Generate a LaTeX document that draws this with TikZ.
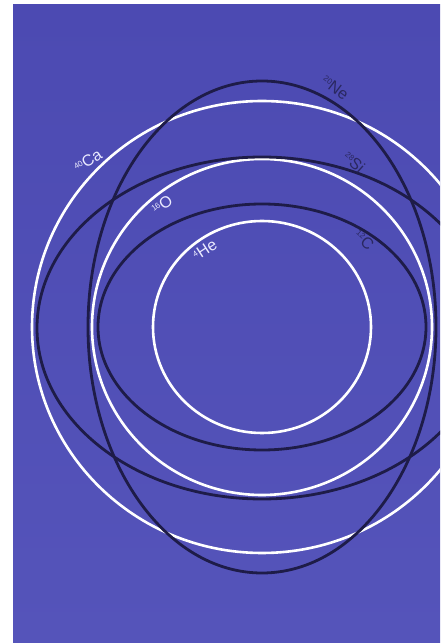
\documentclass[tikz,border=0pt]{standalone}
\usepackage{fontspec}
\setmainfont{Liberation Sans}
\definecolor{bgtop}{HTML}{4C4AB2}
\definecolor{bgbot}{HTML}{5554BA}
\definecolor{darkline}{HTML}{1E1C48}
\definecolor{lbl}{HTML}{2A2860}
\tikzset{
  whiteorbit/.style={draw=white, line width=2.6pt},
  blackorbit/.style={draw=darkline, line width=2.8pt},
  wlabel/.style={text=white!92!blue, font=\fontsize{16}{16}\selectfont, inner sep=0pt},
  dlabel/.style={text=lbl, font=\fontsize{16}{16}\selectfont, inner sep=0pt}
}
\newcommand{\iso}[2]{\raisebox{0.55ex}{\fontsize{8}{8}\selectfont #1}#2}
\begin{document}
\begin{tikzpicture}[x=1pt, y=1pt]
\useasboundingbox (0,0) rectangle (440,643);
\fill[white] (0,0) rectangle (440,643);
\shade[top color=bgtop, bottom color=bgbot] (13,0) rectangle (440,638);
\begin{scope}
\clip (13,0) rectangle (440,638);
% white orbits
\draw[whiteorbit] (262,316) ellipse [x radius=109, y radius=106];
\draw[whiteorbit] (262,316) ellipse [x radius=170, y radius=168];
\draw[whiteorbit] (262,316) ellipse [x radius=230, y radius=226];
% black orbits
\draw[blackorbit] (262,316) ellipse [x radius=164, y radius=123];
\draw[blackorbit] (262,315) ellipse [x radius=225, y radius=171];
\draw[blackorbit] (262,316) ellipse [x radius=174, y radius=246];
\end{scope}
% labels
\node[wlabel, rotate=33] (ca) at (88,482) {\iso{40}{Ca}};
\node[wlabel, rotate=36] (o) at (162,438) {\iso{16}{O}};
\node[wlabel, rotate=33] (he) at (205,393) {\iso{4}{He}};
\node[dlabel, rotate=-37] (ne) at (335,555) {\iso{20}{Ne}};
\node[dlabel, rotate=-42] (si) at (354,481) {\iso{28}{Si}};
\node[dlabel, rotate=-42] (c) at (364,403) {\iso{12}{C}};
\end{tikzpicture}
\end{document}
